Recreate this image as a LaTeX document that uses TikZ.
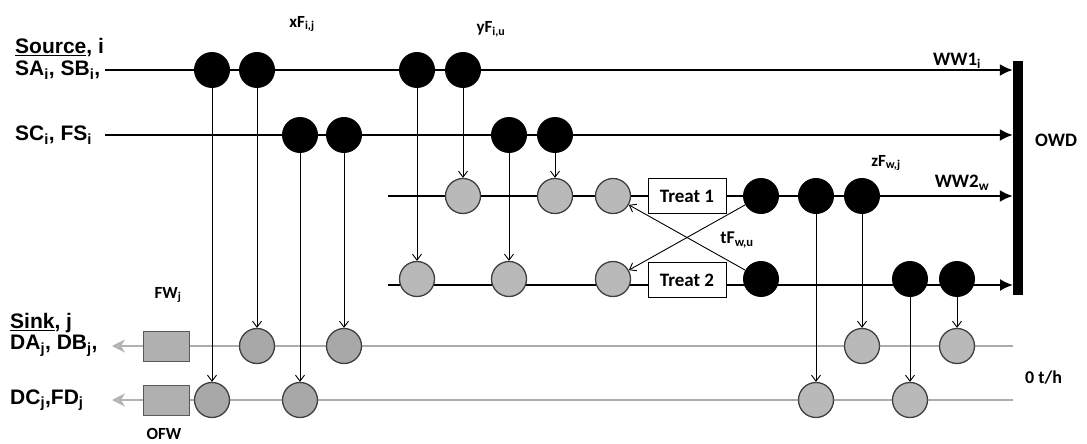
\documentclass[tikz,border=0pt]{standalone}
\usepackage{fontspec}
\setmainfont{Carlito}
\newfontfamily\arialf{Liberation Sans}
\usetikzlibrary{arrows.meta}
\pgfdeclarelayer{background}
\pgfsetlayers{background,main}
\begin{document}
\begin{tikzpicture}[x=1pt,y=-1pt,
 blk/.style={circle,fill=black,minimum size=36pt,inner sep=0pt},
 gry/.style={circle,fill=gray!55,draw=black!75,line width=1.3pt,minimum size=35pt,inner sep=0pt},
 gryd/.style={gry,fill=gray!68},
 sqbox/.style={rectangle,fill=gray!62,draw=black!65,line width=1pt,minimum width=46pt,minimum height=30pt,inner sep=0pt},
 tbox/.style={rectangle,draw,line width=1pt,fill=white,minimum width=78pt,minimum height=35pt,inner sep=0pt,font=\bfseries\fontsize{19}{19}\selectfont},
 mainln/.style={line width=2pt,-{Latex[length=13pt,width=12pt]}},
 plainln/.style={line width=2pt},
 sinkln/.style={line width=1.8pt,draw=gray!65},
 sinkarr/.style={line width=1.8pt,draw=gray!60,-{Stealth[length=13pt,width=13pt,color=gray!60,fill=gray!50]}},
 varr/.style={line width=0.9pt,-{Straight Barb[length=6pt,width=9pt]}},
 lbl/.style={font=\bfseries\fontsize{17}{17}\selectfont,inner sep=0pt},
 lblb/.style={font=\bfseries\fontsize{19}{19}\selectfont,inner sep=0pt},
 side/.style={font=\arialf\bfseries\fontsize{21}{21}\selectfont,inner sep=0pt,anchor=west}
]
\useasboundingbox (0,0) rectangle (1087,444);

% bar
\node[rectangle,fill=black,minimum width=10pt,minimum height=234pt,inner sep=0pt] (bar) at (1018,178) {};

% row 1 black
\node[blk] (a1) at (212,70) {};
\node[blk] (a2) at (257,70) {};
\node[blk] (a3) at (417,70) {};
\node[blk] (a4) at (463,70) {};
% row 2 black
\node[blk] (b1) at (300,135) {};
\node[blk] (b2) at (344,135) {};
\node[blk] (b3) at (509,135) {};
\node[blk] (b4) at (555,135) {};
% row 3
\node[gry] (c1) at (463,196) {};
\node[gry] (c2) at (555,196) {};
\node[gry] (c3) at (613,196) {};
\node[tbox] (t1) at (687,196) {Treat 1};
\node[blk] (c4) at (761,196) {};
\node[blk] (c5) at (816,196) {};
\node[blk] (c6) at (862,196) {};
% row 4
\node[gry] (d1) at (417,279) {};
\node[gry] (d2) at (509,279) {};
\node[gry] (d3) at (613,279) {};
\node[tbox] (t2) at (687,280) {Treat 2};
\node[blk] (d4) at (761,279) {};
\node[blk] (d5) at (910,279) {};
\node[blk] (d6) at (957,279) {};
% row 5 sink
\node[sqbox] (s1) at (166,346) {};
\node[gryd] (e1) at (257,346) {};
\node[gryd] (e2) at (344,346) {};
\node[gry] (e3) at (862,346) {};
\node[gry] (e4) at (957,346) {};
% row 6 sink
\node[sqbox] (s2) at (166,400) {};
\node[gryd] (f1) at (212,400) {};
\node[gryd] (f2) at (300,400) {};
\node[gry] (f3) at (816,400) {};
\node[gry] (f4) at (910,400) {};

% line start/end coordinates
\coordinate (r1s) at (105,70);
\coordinate (r2s) at (105,135);
\coordinate (r3s) at (388,196);
\coordinate (r4s) at (388,285);
\coordinate (r4e) at (1013,285);
\coordinate (r5e) at (1013,346);
\coordinate (r6e) at (1013,400);
\coordinate (k1) at (112,346);
\coordinate (k2) at (112,400);

\begin{pgfonlayer}{background}
\draw[mainln] (r1s) -- (r1s -| bar.west);
\draw[mainln] (r2s) -- (r2s -| bar.west);
\draw[plainln] (r3s) -- (t1.west);
\draw[mainln] (t1.east) -- (t1.east -| bar.west);
\draw[plainln] (r4s) -- (r4s -| t2.west);
\draw[mainln] (r4s -| t2.east) -- (r4e);
\draw[sinkln] (r5e) -- (s1.east);
\draw[sinkarr] (s1.west) -- (k1);
\draw[sinkln] (r6e) -- (s2.east);
\draw[sinkarr] (s2.west) -- (k2);
\end{pgfonlayer}

% vertical arrows
\draw[varr] (a1) -- (f1);
\draw[varr] (a2) -- (e1);
\draw[varr] (b1) -- (f2);
\draw[varr] (b2) -- (e2);
\draw[varr] (a3) -- (d1);
\draw[varr] (a4) -- (c1);
\draw[varr] (b3) -- (d2);
\draw[varr] (b4) -- (c2);
\draw[varr] (c5) -- (f3);
\draw[varr] (c6) -- (e3);
\draw[varr] (d5) -- (f4);
\draw[varr] (d6) -- (e4);
% cross arrows
\draw[varr] (c4) -- (d3);
\draw[varr] (d4) -- (c3);

% labels
\node[lbl] (lx) at (302,24) {xF\textsubscript{i,j}};
\node[lbl] (ly) at (491,29) {yF\textsubscript{i,u}};
\node[lblb] (lw1) at (957,61) {WW1\textsubscript{i}};
\node[lblb,anchor=west] (lowd) at (1035,140) {OWD};
\node[lbl] (lz) at (886,163) {zF\textsubscript{w,j}};
\node[lblb] (lw2) at (962,183) {WW2\textsubscript{w}};
\node[lbl,font=\bfseries\fontsize{18}{18}\selectfont] (lt) at (737,240) {tF\textsubscript{w,u}};
\node[lbl,font=\bfseries\fontsize{18}{18}\selectfont,anchor=west] (l0) at (1025,378) {0 t/h};
\node[lbl] (lfw) at (168,295) {FW\textsubscript{j}};
\node[lbl] (lofw) at (164,434) {OFW};

\node[side] (ls1) at (15,48) {\underline{Source}, i};
\node[side] (ls2) at (15,70) {SA\textsubscript{i}, SB\textsubscript{i},};
\node[side] (ls3) at (15,135) {SC\textsubscript{i}, FS\textsubscript{i}};
\node[side] (lk1) at (10,323) {\underline{Sink}, j};
\node[side] (lk2) at (10,346) {DA\textsubscript{j}, DB\textsubscript{j},};
\node[side] (lk3) at (10,400) {DC\textsubscript{j},FD\textsubscript{j}};
\end{tikzpicture}
\end{document}
